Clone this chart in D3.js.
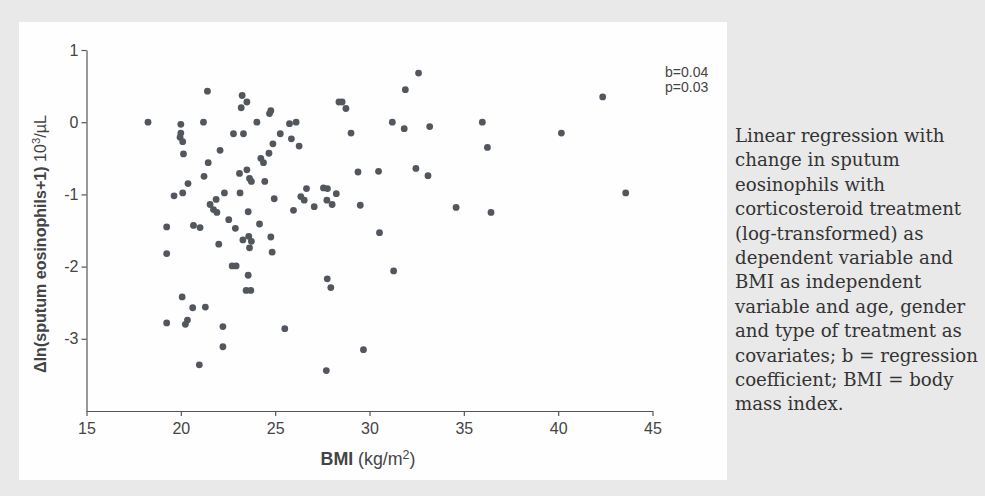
<!DOCTYPE html>
<html><head><meta charset="utf-8">
<script src="https://cdn.jsdelivr.net/npm/d3@7"></script>
<style>body{margin:0;background:#e9e9e9;} svg{display:block}</style>
</head><body><svg id="c" width="985" height="496"></svg>
<script>
// Data
const bmi = [21.41,23.25,23.50,23.20,24.77,24.70,18.26,20.00,21.20,24.03,25.76,26.11,20.00,19.96,20.10,22.79,23.32,25.27,25.86,24.88,26.27,20.14,22.08,24.67,24.24,24.38,21.45,21.23,23.11,23.50,23.64,23.74,24.45,20.38,19.64,20.10,22.31,23.14,26.66,24.95,26.36,26.54,21.55,21.87,21.73,21.91,22.54,23.57,25.97,
19.25,20.67,21.02,24.17,22.89,23.60,23.29,23.74,24.77,22.01,23.64,24.84,19.25,22.72,22.93,23.57,23.46,23.71,20.07,20.63,21.30,19.25,20.35,20.24,22.23,25.51,22.23,20.98,
32.60,31.90,28.38,28.55,28.75,29.02,31.21,31.84,33.19,29.39,30.48,32.46,33.10,27.56,27.77,28.24,27.74,28.02,27.07,29.51,34.59,
30.53,31.28,27.76,27.95,29.68,27.71,
42.36,35.98,36.25,40.17,43.58,36.44];
const dEos = [0.43,0.37,0.28,0.20,0.16,0.12,0.00,-0.03,0.00,0.00,-0.02,0.00,-0.15,-0.21,-0.27,-0.16,-0.16,-0.16,-0.23,-0.30,-0.33,-0.44,-0.39,-0.43,-0.50,-0.56,-0.56,-0.75,-0.71,-0.66,-0.78,-0.82,-0.82,-0.85,-1.02,-0.98,-0.98,-0.98,-0.92,-1.06,-1.03,-1.08,-1.14,-1.07,-1.21,-1.25,-1.35,-1.24,-1.22,
-1.45,-1.43,-1.46,-1.41,-1.47,-1.58,-1.63,-1.65,-1.59,-1.69,-1.74,-1.80,-1.82,-1.99,-1.99,-2.12,-2.33,-2.33,-2.42,-2.57,-2.56,-2.78,-2.74,-2.80,-2.83,-2.86,-3.11,-3.36,
0.68,0.45,0.28,0.28,0.19,-0.15,0.00,-0.09,-0.06,-0.69,-0.68,-0.64,-0.74,-0.91,-0.92,-0.99,-1.08,-1.14,-1.17,-1.15,-1.18,
-1.53,-2.06,-2.17,-2.29,-3.15,-3.44,
0.35,0.00,-0.35,-0.15,-0.98,-1.25];
const xTicks = [15,20,25,30,35,40,45];
const yTicks = [1,0,-1,-2,-3];
const xDomain = [15,45];
const yDomain = [-4,1];
const statLines = ["b=0.04","p=0.03"];
const captionLines = ["Linear regression with","change in sputum","eosinophils with","corticosteroid treatment","(log-transformed) as","dependent variable and","BMI as independent","variable and age, gender","and type of treatment as","covariates; b = regression","coefficient; BMI = body","mass index."];

const svg = d3.select("#c");
const sans = "'Liberation Sans Narrow', 'Arial Narrow', 'Liberation Sans', Arial, sans-serif";

svg.append("rect").attr("x",0).attr("y",0).attr("width",985).attr("height",496).attr("fill","#e9e9e9");
svg.append("rect").attr("x",19).attr("y",22).attr("width",708).attr("height",458).attr("fill","#fefefe");

const x = d3.scaleLinear().domain(xDomain).range([86.5,652.5]);
const y = d3.scaleLinear().domain(yDomain).range([411,50]);

const ax = svg.append("g").attr("transform","translate(0,411)")
  .call(d3.axisBottom(x).tickValues(xTicks).tickFormat(d=>String(d)).tickSize(5).tickSizeOuter(0).tickPadding(7));
const ay = svg.append("g").attr("transform","translate(86.5,0)")
  .call(d3.axisLeft(y).tickValues(yTicks).tickFormat(d=>String(d)).tickSize(5).tickSizeOuter(0).tickPadding(3));
[ax,ay].forEach(g=>{
  g.selectAll("path,line").attr("stroke","#555").attr("stroke-width",1.2);
  g.selectAll("text").attr("fill","#444").attr("font-family",sans).attr("font-size",16);
});

svg.append("g").selectAll("circle").data(bmi.map((b,i)=>[b,dEos[i]])).join("circle")
  .attr("cx",d=>x(d[0])).attr("cy",d=>y(d[1])).attr("r",3.4).attr("fill","#52575d");

function fit(sel, base, target){
  sel.attr("font-size",base);
  const w = sel.node().getComputedTextLength();
  sel.attr("font-size", base*target/w);
}

// axis titles
const xt = svg.append("text").attr("x",368).attr("y",465).attr("text-anchor","middle")
  .attr("font-family",sans).attr("fill","#444");
xt.append("tspan").attr("font-weight","bold").text("BMI");
xt.append("tspan").text(" (kg/m");
xt.append("tspan").attr("dy",-6).attr("font-size","0.7em").text("2");
xt.append("tspan").attr("dy",6).text(")");
fit(xt,16,95);

const yt = svg.append("text").attr("transform","translate(46,244) rotate(-90)").attr("text-anchor","middle")
  .attr("font-family",sans).attr("fill","#444");
yt.append("tspan").attr("font-weight","bold").text("\u0394ln(sputum eosinophils+1)");
yt.append("tspan").text(" 10");
yt.append("tspan").attr("dy",-6).attr("font-size","0.7em").text("3");
yt.append("tspan").attr("dy",6).text("/\u00b5L");
fit(yt,16,258);

svg.append("g").selectAll("text").data(statLines).join("text")
  .attr("x",665).attr("y",(d,i)=>77+i*15).attr("font-family",sans).attr("font-size",14).attr("fill","#444").text(d=>d);

const cap = svg.append("g").selectAll("text").data(captionLines).join("text")
  .attr("x",735).attr("y",(d,i)=>142+i*24.4).attr("font-family","'DejaVu Serif', serif")
  .attr("font-size",16).attr("fill","#333").text(d=>d);
let maxW = 0; cap.each(function(){maxW=Math.max(maxW,this.getComputedTextLength());});
cap.attr("font-size",16*243/maxW);
</script></body></html>
